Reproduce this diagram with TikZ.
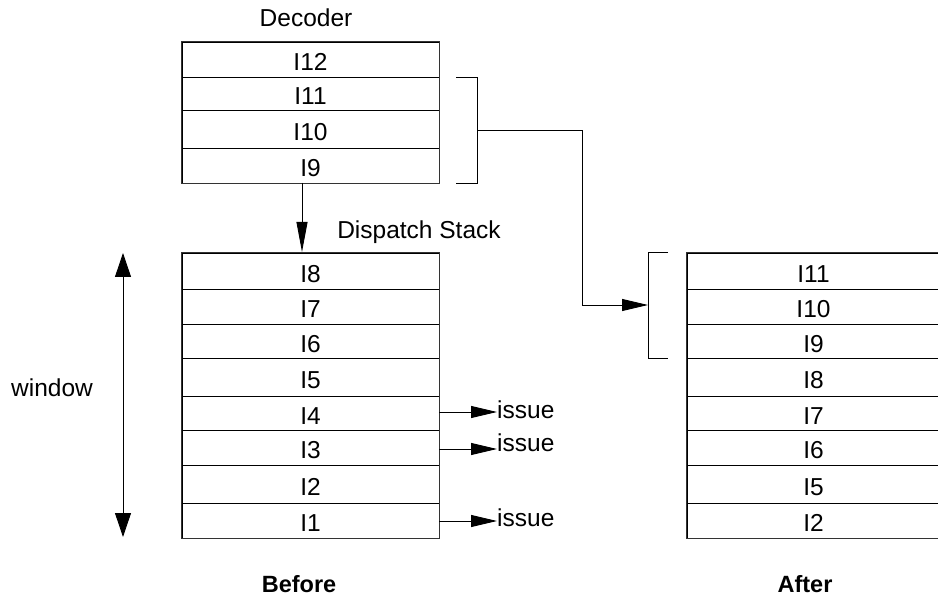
\documentclass[tikz,border=0pt]{standalone}
\usepackage{fontspec}
\setmainfont{Liberation Sans}
\usetikzlibrary{arrows.meta}
\begin{document}
\begin{tikzpicture}[x=1pt,y=-1pt,
  every node/.style={font=\fontsize{24.5}{29}\selectfont},
  cell/.style={draw=black, line width=0.8pt, inner sep=0pt, text height=22.5pt, text depth=0pt, minimum width=257pt},
  rcell/.style={cell, minimum width=253pt},
  outerbox/.style={draw=black!80, line width=1.6pt},
  conn/.style={line width=0.9pt},
  tip/.style={-{Triangle[length=26pt,width=12pt]}},
]
\useasboundingbox (0,0) rectangle (938,596);
\clip (0,0) rectangle (938,596);

% Decoder stack
\node[cell, minimum height=35pt] (d12) at (310.5,59.5) {I12};
\node[cell, minimum height=33pt] (d11) at (310.5,93.5) {I11};
\node[cell, minimum height=38pt] (d10) at (310.5,129) {I10};
\node[cell, minimum height=35pt] (d9)  at (310.5,165.5) {I9};
\draw[outerbox] (d12.north west) rectangle (d9.south east);
\node (dec) at (306,18) {Decoder};

% Dispatch stack (before)
\node[cell, minimum height=36pt] (b8) at (310.5,271) {I8};
\node[cell, minimum height=35pt] (b7) at (310.5,306.5) {I7};
\node[cell, minimum height=34pt] (b6) at (310.5,341) {I6};
\node[cell, minimum height=38pt] (b5) at (310.5,377) {I5};
\node[cell, minimum height=34pt] (b4) at (310.5,413) {I4};
\node[cell, minimum height=35pt] (b3) at (310.5,447.5) {I3};
\node[cell, minimum height=38pt] (b2) at (310.5,484) {I2};
\node[cell, minimum height=35pt] (b1) at (310.5,520.5) {I1};
\draw[outerbox] (b8.north west) rectangle (b1.south east);
\node (ds) at (419,232) {Dispatch Stack};

% After stack
\node[rcell, minimum height=36pt] (a11) at (813.5,271) {I11};
\node[rcell, minimum height=35pt] (a10) at (813.5,306.5) {I10};
\node[rcell, minimum height=34pt] (a9) at (813.5,341) {I9};
\node[rcell, minimum height=38pt] (a8) at (813.5,377) {I8};
\node[rcell, minimum height=34pt] (a7) at (813.5,413) {I7};
\node[rcell, minimum height=35pt] (a6) at (813.5,447.5) {I6};
\node[rcell, minimum height=38pt] (a5) at (813.5,484) {I5};
\node[rcell, minimum height=35pt] (a2) at (813.5,520.5) {I2};
\draw[outerbox] (a11.north west) rectangle (a2.south east);

% Decoder -> dispatch arrow
\coordinate (dtop) at (302,183);
\coordinate (dbot) at (302,252);
\draw[conn, -{Triangle[length=30pt,width=11pt]}] (dtop) -- (dbot);

% left bracket
\coordinate (lb1) at (456,77);
\coordinate (lb2) at (477,77);
\coordinate (lb3) at (477,183);
\coordinate (lb4) at (456,183);
\coordinate (lbm) at (477,130);
\draw[conn] (lb1) -- (lb2) -- (lb3) -- (lb4);
% right bracket
\coordinate (rb1) at (668,252);
\coordinate (rb2) at (648,252);
\coordinate (rb3) at (648,358);
\coordinate (rb4) at (668,358);
\coordinate (rbm) at (648,305);
\draw[conn] (rb1) -- (rb2) -- (rb3) -- (rb4);
\coordinate (bend) at (582,130);
\draw[conn, tip] (lbm) -- (bend) |- (rbm);

% window arrow
\coordinate (wt) at (123,253);
\coordinate (wb) at (123,537);
\draw[conn, {Triangle[length=24pt,width=16pt]}-{Triangle[length=24pt,width=16pt]}] (wt) -- (wb);
\node (win) at (52,388) {window};

% issue arrows
\node[anchor=west, inner sep=0pt] (is4) at (497,410) {issue};
\node[anchor=west, inner sep=0pt] (is3) at (497,443) {issue};
\node[anchor=west, inner sep=0pt] (is1) at (497,518) {issue};
\draw[conn, tip] (b4.east |- 0,412) -- (is4.west |- 0,412);
\draw[conn, tip] (b3.east |- 0,449) -- (is3.west |- 0,449);
\draw[conn, tip] (b1.east |- 0,521) -- (is1.west |- 0,521);

% captions
\node[font=\fontsize{23.5}{28}\selectfont\bfseries] (bef) at (299,584) {Before};
\node[font=\fontsize{23.5}{28}\selectfont\bfseries] (aft) at (805,584) {After};
\end{tikzpicture}
\end{document}
